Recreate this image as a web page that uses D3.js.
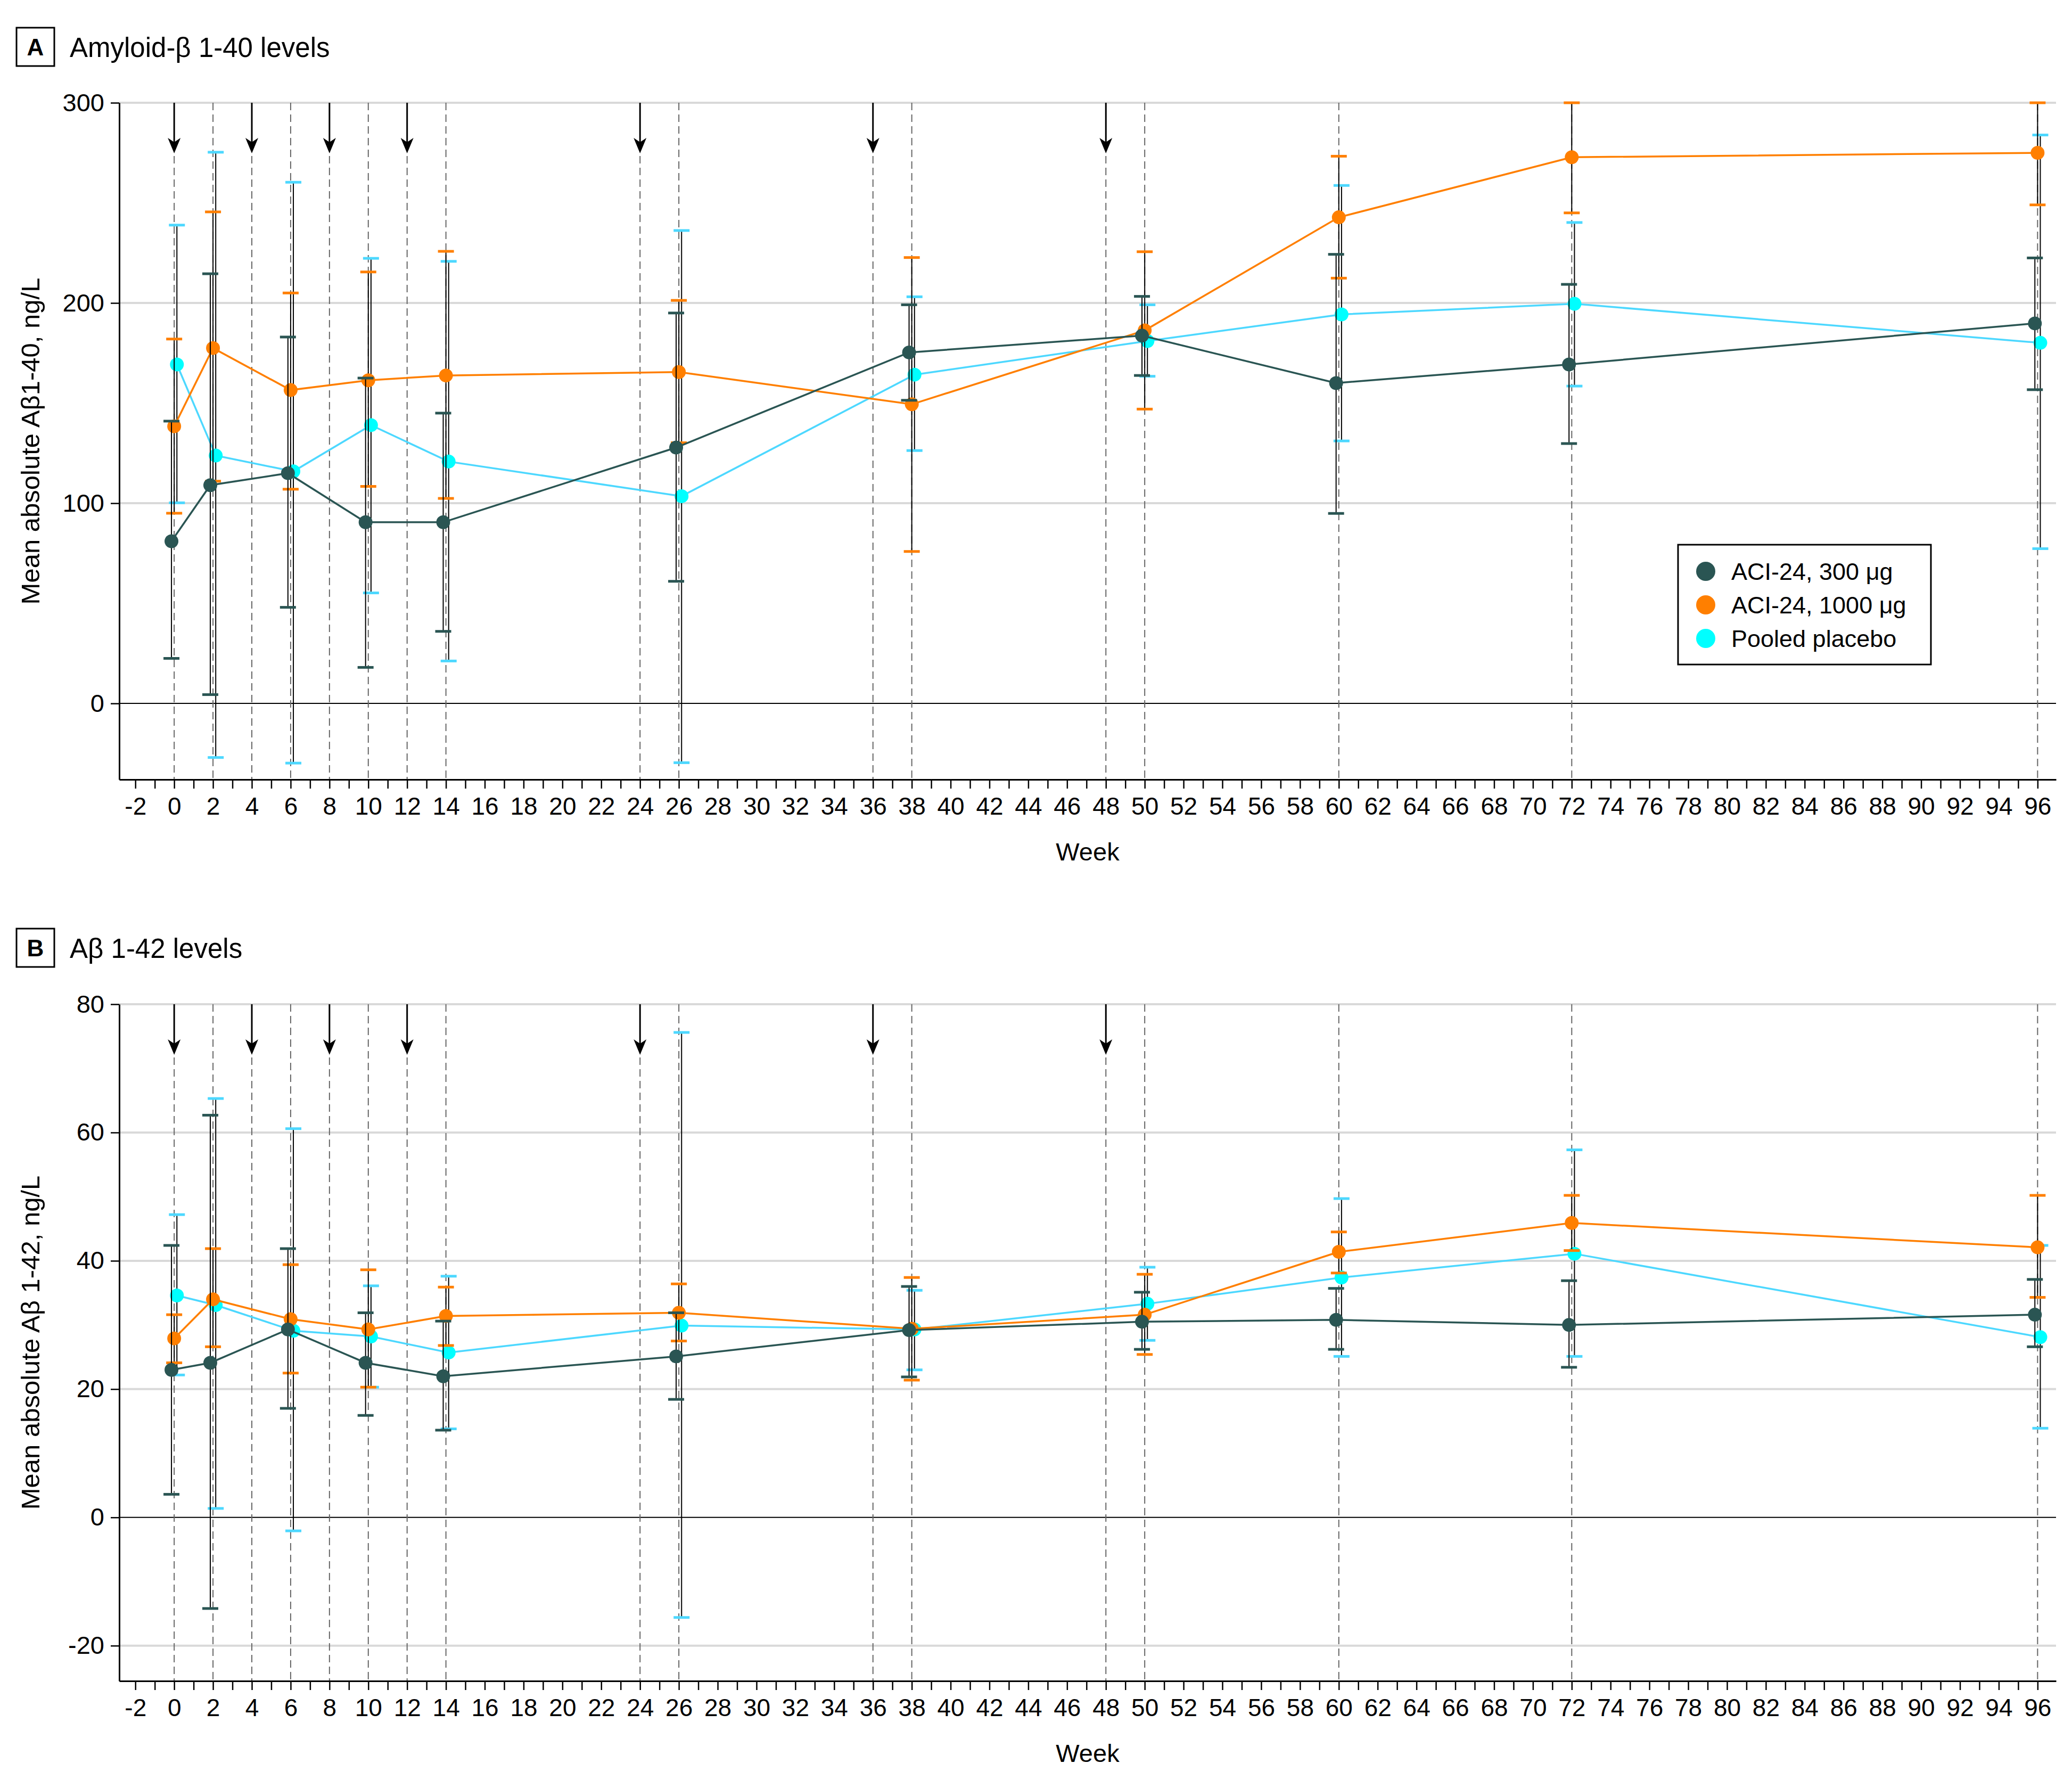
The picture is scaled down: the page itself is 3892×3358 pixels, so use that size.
<!DOCTYPE html>
<html>
<head>
<meta charset="utf-8">
<script src="https://cdn.jsdelivr.net/npm/d3@7"></script>
<style>
  html, body { margin: 0; padding: 0; background: #fff; }
  svg { display: block; font-family: "Liberation Sans", Arial, sans-serif; }
</style>
</head>
<body>
<script>
// ---------------- DATA ----------------
const weeks = [0, 2, 6, 10, 14, 26, 38, 50, 60, 72, 96];
const arrowWeeks = [0, 4, 8, 12, 24, 36, 48];
const dashedWeeks = [0, 2, 4, 6, 8, 10, 12, 14, 24, 26, 36, 38, 48, 50, 60, 72, 96];
const seriesNames = ["ACI-24, 300 μg", "ACI-24, 1000 μg", "Pooled placebo"];

// Panel A: Amyloid-β 1-40 (ng/L)
const a300Mean  = [81, 109, 115, 90.5, 90.5, 127.8, 175.3, 183.7, 160, 169.3, 189.8];
const a300Lo    = [22.5, 4.4, 48, 18, 36, 61, 151.4, 163.8, 94.9, 129.8, 156.7];
const a300Hi    = [141, 214.6, 183, 162.5, 145, 195, 199.1, 203.3, 224.3, 209.3, 222.5];
const a1000Mean = [138.4, 177.5, 156.5, 161.4, 163.8, 165.5, 149.4, 186.3, 242.8, 272.8, 275];
const a1000Lo   = [95, 111, 107, 108.4, 102.4, 130.2, 75.9, 147, 212.4, 245, 249];
const a1000Hi   = [182, 245.5, 205, 215.5, 225.8, 201.3, 222.7, 225.6, 273.3, 300, 300];
const aPlcMean  = [169.3, 123.8, 115.9, 139, 120.8, 103.5, 164.2, 181, 194.3, 199.6, 180.1];
const aPlcLo    = [100.2, -27, -29.8, 55.2, 21.2, -29.6, 126.3, 163.4, 131.1, 158.5, 77.3];
const aPlcHi    = [238.9, 275.3, 260.3, 222.3, 220.8, 236.2, 203.1, 199.1, 258.7, 240.2, 283.9];
const aTicks = [0, 100, 200, 300];

// Panel B: Aβ 1-42 (ng/L)
const b300Mean  = [23.0, 24.1, 29.3, 24.1, 22.0, 25.1, 29.2, 30.5, 30.8, 30.0, 31.6];
const b300Lo    = [3.6, -14.2, 17.0, 15.9, 13.6, 18.4, 21.9, 26.2, 26.2, 23.4, 26.6];
const b300Hi    = [42.4, 62.7, 41.9, 31.9, 30.6, 31.9, 36.0, 35.1, 35.7, 36.9, 37.1];
const b1000Mean = [27.9, 34.0, 30.9, 29.3, 31.4, 31.9, 29.4, 31.6, 41.4, 45.9, 42.1];
const b1000Lo   = [24.1, 26.6, 22.5, 20.3, 26.8, 27.5, 21.4, 25.4, 38.1, 41.6, 34.3];
const b1000Hi   = [31.6, 41.9, 39.4, 38.6, 35.9, 36.4, 37.4, 37.9, 44.5, 50.2, 50.2];
const bPlcMean  = [34.6, 33.1, 29.1, 28.2, 25.7, 29.9, 29.3, 33.3, 37.4, 41.1, 28.1];
const bPlcLo    = [22.2, 1.4, -2.1, 20.3, 13.8, -15.6, 23.0, 27.6, 25.1, 25.1, 13.9];
const bPlcHi    = [47.2, 65.3, 60.6, 36.1, 37.6, 75.6, 35.4, 39.0, 49.7, 57.3, 42.4];
const bTicks = [-20, 0, 20, 40, 60, 80];

// ---------------- STYLE ----------------
const colors = {
  dark:   { marker: "#2a5553", line: "#2a5553", cap: "#2a5553" },
  orange: { marker: "#ff7f00", line: "#ff7f00", cap: "#ff7f00" },
  cyan:   { marker: "#00ffff", line: "#4dd8ff", cap: "#4dd8ff" }
};

const W = 3892, H = 3358;
const svg = d3.select("body").append("svg").attr("width", W).attr("height", H);

const x = d3.scaleLinear().domain([-2.83, 96.95]).range([224, 3862]);
const xTicks = d3.range(-2, 97, 1);

function panel(cfg) {
  const g = svg.append("g");
  const y = d3.scaleLinear().domain(cfg.yDomain).range([cfg.bottom, cfg.top]);

  // panel letter box + title
  g.append("rect").attr("x", 31).attr("y", cfg.boxY).attr("width", 71).attr("height", 72)
    .attr("fill", "#fff").attr("stroke", "#000").attr("stroke-width", 3);
  g.append("text").attr("x", 66.5).attr("y", cfg.boxY + 36).attr("text-anchor", "middle")
    .attr("dominant-baseline", "central").attr("font-weight", "bold").attr("font-size", 44)
    .text(cfg.letter);
  g.append("text").attr("x", 131).attr("y", cfg.boxY + 55).attr("font-size", 51).text(cfg.title);

  // gridlines
  g.append("g").selectAll("line").data(cfg.yTicks.filter(d => d !== 0)).join("line")
    .attr("x1", x.range()[0]).attr("x2", x.range()[1])
    .attr("y1", d => y(d)).attr("y2", d => y(d))
    .attr("stroke", "#d9d9d9").attr("stroke-width", 4);

  // zero line
  g.append("line").attr("x1", x.range()[0]).attr("x2", x.range()[1])
    .attr("y1", y(0)).attr("y2", y(0)).attr("stroke", "#000").attr("stroke-width", 2);

  // dashed week lines
  g.append("g").selectAll("line").data(dashedWeeks).join("line")
    .attr("x1", d => x(d)).attr("x2", d => x(d))
    .attr("y1", d => arrowWeeks.includes(d) ? cfg.top + 100 : cfg.top)
    .attr("y2", cfg.bottom)
    .attr("stroke", "#666").attr("stroke-width", 2).attr("stroke-dasharray", "14,8");

  // arrows
  const ag = g.append("g");
  arrowWeeks.forEach(w => {
    const ax = x(w);
    ag.append("line").attr("x1", ax).attr("x2", ax).attr("y1", cfg.top).attr("y2", cfg.top + 75)
      .attr("stroke", "#000").attr("stroke-width", 3);
    ag.append("path")
      .attr("d", `M${ax - 12},${cfg.top + 66} L${ax},${cfg.top + 95} L${ax + 12},${cfg.top + 66} L${ax},${cfg.top + 74} Z`)
      .attr("fill", "#000");
  });

  // axes
  const yAxis = d3.axisLeft(y).tickValues(cfg.yTicks).tickSize(16).tickSizeOuter(0).tickPadding(12)
    .tickFormat(d => String(d));
  const ya = g.append("g").attr("transform", `translate(${x.range()[0]},0)`).call(yAxis);
  ya.select(".domain").attr("stroke-width", 3);
  ya.selectAll(".tick line").attr("stroke-width", 2.5);
  ya.selectAll(".tick text").attr("font-size", 47).attr("font-family", "Liberation Sans, Arial, sans-serif");

  const xAxis = d3.axisBottom(x).tickValues(xTicks).tickSize(17).tickSizeOuter(0).tickPadding(16)
    .tickFormat(d => d % 2 === 0 ? String(d) : "");
  const xa = g.append("g").attr("transform", `translate(0,${cfg.bottom})`).call(xAxis);
  xa.select(".domain").attr("stroke-width", 3);
  xa.selectAll(".tick line").attr("stroke-width", 2.5);
  xa.selectAll(".tick text").attr("font-size", 46).attr("font-family", "Liberation Sans, Arial, sans-serif");

  // axis titles
  g.append("text").attr("x", (x.range()[0] + x.range()[1]) / 2).attr("y", cfg.bottom + 152)
    .attr("text-anchor", "middle").attr("font-size", 47).text("Week");
  g.append("text")
    .attr("transform", `translate(74,${(cfg.top + cfg.bottom) / 2}) rotate(-90)`)
    .attr("text-anchor", "middle").attr("font-size", 49).text(cfg.yLabel);

  // series (draw placebo, 1000, 300 so 300 is on top)
  const offsets = { dark: -0.14, orange: 0, cyan: 0.14 };
  cfg.series.forEach(s => {
    const c = colors[s.key];
    const off = offsets[s.key];
    const pts = weeks.map((w, i) => ({ w: w + off, m: s.mean[i], lo: s.lo[i], hi: s.hi[i] }));
    const sg = g.append("g");
    sg.append("path").datum(pts)
      .attr("d", d3.line().x(d => x(d.w)).y(d => y(d.m)))
      .attr("fill", "none").attr("stroke", c.line).attr("stroke-width", 3.5);
    sg.append("g").selectAll("line").data(pts).join("line")
      .attr("x1", d => x(d.w)).attr("x2", d => x(d.w))
      .attr("y1", d => y(d.lo)).attr("y2", d => y(d.hi))
      .attr("stroke", "#000").attr("stroke-width", 2);
    ["lo", "hi"].forEach(k => {
      sg.append("g").selectAll("line").data(pts).join("line")
        .attr("x1", d => x(d.w) - 15).attr("x2", d => x(d.w) + 15)
        .attr("y1", d => y(d[k])).attr("y2", d => y(d[k]))
        .attr("stroke", c.cap).attr("stroke-width", 5);
    });
    sg.append("g").selectAll("circle").data(pts).join("circle")
      .attr("cx", d => x(d.w)).attr("cy", d => y(d.m)).attr("r", 13)
      .attr("fill", c.marker);
  });

  // legend
  if (cfg.legend) {
    const lg = g.append("g");
    lg.append("rect").attr("x", 3152).attr("y", 1023).attr("width", 475).attr("height", 225)
      .attr("fill", "#fff").attr("stroke", "#000").attr("stroke-width", 3);
    const keys = ["dark", "orange", "cyan"];
    seriesNames.forEach((n, i) => {
      const cy = 1073 + i * 63;
      lg.append("circle").attr("cx", 3204).attr("cy", cy).attr("r", 18).attr("fill", colors[keys[i]].marker);
      lg.append("text").attr("x", 3252).attr("y", cy).attr("dominant-baseline", "central")
        .attr("font-size", 45).text(n);
    });
  }
}

panel({
  letter: "A", title: "Amyloid-β 1-40 levels", boxY: 52,
  top: 193, bottom: 1464, yDomain: [-38, 300], yTicks: aTicks,
  yLabel: "Mean absolute Aβ1-40, ng/L", legend: true,
  series: [
    { key: "cyan", mean: aPlcMean, lo: aPlcLo, hi: aPlcHi },
    { key: "orange", mean: a1000Mean, lo: a1000Lo, hi: a1000Hi },
    { key: "dark", mean: a300Mean, lo: a300Lo, hi: a300Hi }
  ]
});

panel({
  letter: "B", title: "Aβ 1-42 levels", boxY: 1744,
  top: 1886, bottom: 3157, yDomain: [-25.5, 80], yTicks: bTicks,
  yLabel: "Mean absolute Aβ 1-42, ng/L", legend: false,
  series: [
    { key: "cyan", mean: bPlcMean, lo: bPlcLo, hi: bPlcHi },
    { key: "orange", mean: b1000Mean, lo: b1000Lo, hi: b1000Hi },
    { key: "dark", mean: b300Mean, lo: b300Lo, hi: b300Hi }
  ]
});
</script>
</body>
</html>
